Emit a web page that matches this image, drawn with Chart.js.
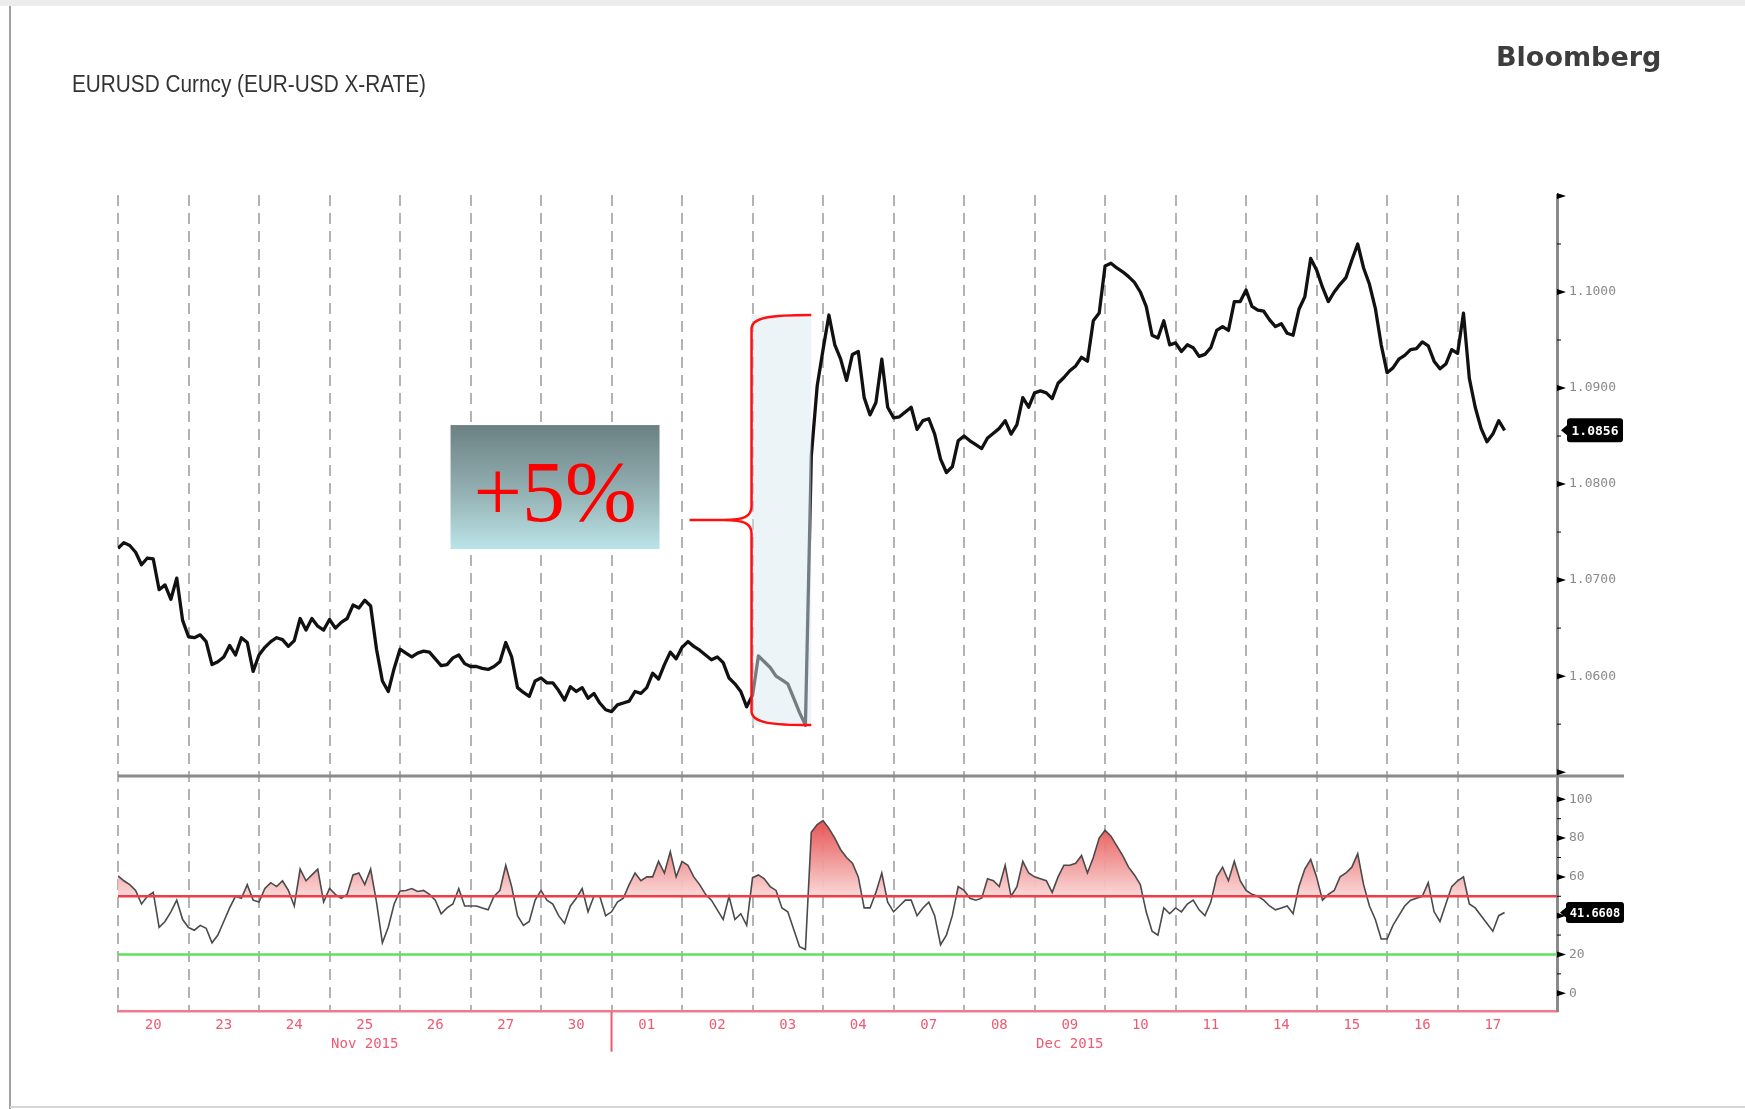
<!DOCTYPE html>
<html>
<head>
<meta charset="utf-8">
<title>EURUSD Curncy</title>
<script src="https://cdn.jsdelivr.net/npm/chart.js@4.4.1/dist/chart.umd.min.js"></script>
<style>
  html, body { margin: 0; padding: 0; background: #fff; }
  #wrap { position: relative; width: 1745px; height: 1109px; overflow: hidden; }
  #chart { position: absolute; left: 0; top: 0; }
  #title { position: absolute; left: 72px; top: 73px; font-family: 'Liberation Sans', Arial, sans-serif;
           font-size: 23px; line-height: 23px; color: #333; white-space: nowrap; transform-origin: 0 0; }
  #brand { position: absolute; left: 1496px; top: 43px; font-family: 'DejaVu Sans', sans-serif; font-weight: bold;
           font-size: 27px; line-height: 27px; color: #3d3d3d; white-space: nowrap; }
</style>
</head>
<body>
<div id="wrap">
  <canvas id="chart" width="1745" height="1109"></canvas>
  <div id="title">EURUSD Curncy (EUR-USD X-RATE)</div>
  <div id="brand">Bloomberg</div>
</div>
<script>
const dayLabels = ['20', '23', '24', '25', '26', '27', '30', '01', '02', '03',
                   '04', '07', '08', '09', '10', '11', '14', '15', '16', '17'];
const monthNames = ['Nov 2015', 'Dec 2015'];
const monthLabelDay = [3, 13];   // month name printed under these days
const monthBreakDay = 7;         // first day of December
const pointsPerDay = 12;         // one reading every 2 hours

// EURUSD, 12 readings per trading day
const eurusd = [
  1.0733, 1.0739, 1.0736, 1.0729, 1.0716, 1.0723, 1.0722, 1.0690, 1.0695, 1.0680, 1.0702, 1.0658, // 20
  1.0641, 1.0640, 1.0643, 1.0636, 1.0612, 1.0615, 1.0620, 1.0632, 1.0622, 1.0640, 1.0635, 1.0605, // 23
  1.0622, 1.0630, 1.0636, 1.0640, 1.0638, 1.0631, 1.0637, 1.0660, 1.0648, 1.0660, 1.0652, 1.0648, // 24
  1.0659, 1.0650, 1.0656, 1.0660, 1.0674, 1.0671, 1.0679, 1.0673, 1.0628, 1.0595, 1.0584, 1.0608, // 25
  1.0628, 1.0624, 1.0620, 1.0624, 1.0626, 1.0625, 1.0618, 1.0611, 1.0612, 1.0619, 1.0622, 1.0613, // 26
  1.0610, 1.0610, 1.0608, 1.0607, 1.0610, 1.0615, 1.0635, 1.0620, 1.0588, 1.0583, 1.0579, 1.0595, // 27
  1.0598, 1.0593, 1.0593, 1.0585, 1.0575, 1.0589, 1.0584, 1.0588, 1.0577, 1.0582, 1.0572, 1.0565, // 30
  1.0563, 1.0570, 1.0572, 1.0574, 1.0584, 1.0582, 1.0588, 1.0603, 1.0597, 1.0612, 1.0625, 1.0618, // 01
  1.0630, 1.0636, 1.0631, 1.0627, 1.0622, 1.0617, 1.0620, 1.0614, 1.0598, 1.0592, 1.0584, 1.0568, // 02
  1.0580, 1.0621, 1.0615, 1.0609, 1.0600, 1.0596, 1.0592, 1.0577, 1.0562, 1.0549, 1.0829, 1.0902, // 03
  1.0940, 1.0976, 1.0945, 1.0930, 1.0908, 1.0935, 1.0938, 1.0890, 1.0872, 1.0885, 1.0930, 1.0880, // 04
  1.0869, 1.0870, 1.0875, 1.0880, 1.0857, 1.0866, 1.0868, 1.0852, 1.0826, 1.0812, 1.0818, 1.0845, // 07
  1.0850, 1.0845, 1.0841, 1.0837, 1.0848, 1.0853, 1.0858, 1.0866, 1.0852, 1.0862, 1.0890, 1.0880, // 08
  1.0895, 1.0897, 1.0895, 1.0889, 1.0905, 1.0911, 1.0918, 1.0923, 1.0932, 1.0928, 1.0970, 1.0978, // 09
  1.1027, 1.1030, 1.1025, 1.1021, 1.1016, 1.1010, 1.1000, 1.0985, 1.0955, 1.0952, 1.0970, 1.0945, // 10
  1.0947, 1.0938, 1.0945, 1.0942, 1.0933, 1.0935, 1.0942, 1.0960, 1.0964, 1.0960, 1.0990, 1.0990, // 11
  1.1002, 1.0985, 1.0981, 1.0980, 1.0971, 1.0964, 1.0967, 1.0957, 1.0955, 1.0982, 1.0995, 1.1035, // 14
  1.1023, 1.1005, 1.0990, 1.1000, 1.1008, 1.1015, 1.1033, 1.1050, 1.1025, 1.1008, 1.0983, 1.0945, // 15
  1.0916, 1.0921, 1.0930, 1.0934, 1.0940, 1.0941, 1.0948, 1.0944, 1.0928, 1.0920, 1.0925, 1.0940, // 16
  1.0936, 1.0978, 1.0910, 1.0880, 1.0858, 1.0844, 1.0852, 1.0866, 1.0856                          // 17
];

// RSI, same sampling
const rsi = [
  60.5, 58, 56, 53, 46, 50, 52, 34, 37, 42, 48, 38,       // 20
  33.9, 32.5, 35, 33.5, 26, 30, 37, 44, 50, 49, 56, 48,   // 23
  47, 54, 57, 55, 58, 53, 45, 64, 58, 61, 64, 47,         // 24
  54, 51, 49, 51, 61, 62, 56, 64, 47, 26, 34, 46,         // 25
  52.7, 53, 54, 52.5, 53, 51, 48, 41, 44, 46, 54, 45,     // 26
  45, 45, 44, 43, 50, 53, 66, 55, 40, 35, 37, 48,         // 27
  53, 48, 46, 40, 36, 45, 49, 54, 42, 50, 50, 40,         // 30
  42, 47, 49, 56, 62, 58, 60, 60, 68, 62, 73, 60,         // 01
  68, 66, 60, 56, 51, 48, 43, 38, 50, 38, 41, 35,         // 02
  59.6, 61, 59, 55, 53, 44, 42, 33, 24, 22.6, 83, 87,     // 03
  89, 85, 80, 74, 70, 67, 60, 44, 44, 52, 62, 47,         // 04
  42, 45, 48, 48, 40, 44, 47, 40, 25, 30, 40, 55,         // 07
  53, 49, 48, 49, 59, 58, 55, 66, 50, 55, 68, 62,         // 08
  60, 59, 58, 52, 60, 66, 66, 67, 71, 62, 70, 80,         // 09
  84, 81, 76, 71, 65, 61, 56, 42, 32, 30, 44, 41,         // 10
  44, 42, 46, 48, 43, 40, 47, 60, 65, 58, 68, 58,         // 11
  53, 51, 50, 48, 45, 43, 44, 45, 41, 55, 64, 69,         // 14
  60, 48, 51, 53, 60, 62, 65, 72, 56, 45, 38, 28,         // 15
  28, 35, 40, 45, 48, 49, 50, 57, 42, 37, 46, 55,         // 16
  58, 60, 46, 44, 40, 36, 32, 40, 41.6608                 // 17
];

const priceTicks = [1.05, 1.06, 1.07, 1.08, 1.09, 1.10, 1.11];
const priceTickLabels = ['', '1.0600', '1.0700', '1.0800', '1.0900', '1.1000', ''];
const rsiTicks = [0, 20, 40, 60, 80, 100];
const rsiTickLabels = ['0', '20', '40', '60', '80', '100'];
const rsiLevels = [50, 20];
const jumpDay = 9;        // 03 Dec
const jumpLabel = '+5%';

const xMax = 20.41;
const priceMin = 1.0496, priceMax = 1.1101;
const rsiMin = -9.5, rsiMax = 112;

const GRID = '#b3b3b3';
const AXIS = '#8a8a8a';
const PINK = '#ee5a72';

const xOf = i => i / pointsPerDay;
const priceData = eurusd.map((v, i) => ({ x: xOf(i), y: v }));
const rsiData = rsi.map((v, i) => ({ x: xOf(i), y: v }));
const levelData = lvl => [{ x: 0, y: lvl }, { x: xMax, y: lvl }];

function drawTag(c, x, y, text, w, h, size) {
    c.save();
    c.fillStyle = '#000';
    c.beginPath();
    c.moveTo(x, y);
    c.lineTo(x + 6, y - 5);
    c.lineTo(x + 6, y - h / 2 + 3);
    c.quadraticCurveTo(x + 6, y - h / 2, x + 9, y - h / 2);
    c.lineTo(x + w - 3, y - h / 2);
    c.quadraticCurveTo(x + w, y - h / 2, x + w, y - h / 2 + 3);
    c.lineTo(x + w, y + h / 2 - 3);
    c.quadraticCurveTo(x + w, y + h / 2, x + w - 3, y + h / 2);
    c.lineTo(x + 9, y + h / 2);
    c.quadraticCurveTo(x + 6, y + h / 2, x + 6, y + h / 2 - 3);
    c.lineTo(x + 6, y + 5);
    c.closePath();
    c.fill();
    c.fillStyle = '#fff';
    c.font = 'bold ' + size + 'px "DejaVu Sans Mono", monospace';
    c.textAlign = 'center';
    c.textBaseline = 'middle';
    c.fillText(text, x + 6 + (w - 6) / 2, y + 1);
    c.restore();
}

function axisMarks(c, scale, ticks) {
    const ax = scale.left;
    c.fillStyle = '#000';
    c.strokeStyle = '#000';
    c.lineWidth = 1;
    ticks.forEach((v, i) => {
        const y = scale.getPixelForValue(v);
        c.beginPath();
        c.moveTo(ax, y - 3);
        c.lineTo(ax + 9, y);
        c.lineTo(ax, y + 3);
        c.closePath();
        c.fill();
        if (i > 0) {
            const ym = scale.getPixelForValue((v + ticks[i - 1]) / 2);
            c.beginPath();
            c.moveTo(ax, ym);
            c.lineTo(ax + 4, ym);
            c.stroke();
        }
    });
}

const overlay = {
    id: 'overlay',
    beforeDraw(chart) {
        const c = chart.ctx;
        c.save();
        c.fillStyle = '#fff';
        c.fillRect(0, 0, chart.width, chart.height);
        c.fillStyle = '#ededed';
        c.fillRect(0, 0, chart.width, 6);
        c.strokeStyle = '#a0a0a0';
        c.lineWidth = 2;
        c.beginPath();
        c.moveTo(10, 6);
        c.lineTo(10, chart.height);
        c.stroke();
        c.strokeStyle = '#d6d6d6';
        c.beginPath();
        c.moveTo(10, chart.height - 2);
        c.lineTo(chart.width, chart.height - 2);
        c.stroke();
        c.restore();
    },
    afterDatasetsDraw(chart) {
        const c = chart.ctx;
        const xs = chart.scales.x, ys = chart.scales.y;
        const dayVals = eurusd.slice(jumpDay * pointsPerDay, (jumpDay + 1) * pointsPerDay);
        const nextVals = eurusd.slice((jumpDay + 1) * pointsPerDay, (jumpDay + 2) * pointsPerDay);
        const low = Math.min(...dayVals);
        const high = Math.max(...nextVals);
        const lowIdx = jumpDay * pointsPerDay + dayVals.indexOf(low);
        const x0 = xs.getPixelForValue(jumpDay);
        const x1 = xs.getPixelForValue(xOf(lowIdx + 1));
        const yH = ys.getPixelForValue(high);
        const yL = ys.getPixelForValue(low);

        c.save();
        // shaded jump window
        c.fillStyle = 'rgba(218,233,240,0.5)';
        c.fillRect(x0 - 1, yH, x1 - x0 + 1, yL - yH);

        // curly brace
        const bx = x0 - 1;
        const mid = (yH + yL) / 2;
        c.strokeStyle = '#ff1010';
        c.lineWidth = 2.5;
        c.beginPath();
        c.moveTo(x1, yH);
        c.bezierCurveTo(bx + 20, yH, bx, yH + 2, bx, yH + 14);
        c.lineTo(bx, mid - 14);
        c.bezierCurveTo(bx, mid - 3, bx - 8, mid, bx - 28, mid);
        c.bezierCurveTo(bx - 8, mid, bx, mid + 3, bx, mid + 14);
        c.lineTo(bx, yL - 14);
        c.bezierCurveTo(bx, yL - 2, bx + 20, yL, x1, yL);
        c.moveTo(bx - 28, mid);
        c.lineTo(bx - 62, mid);
        c.stroke();

        // label box
        const bw = 209, bh = 124;
        const br = bx - 92, bt = mid - 95;
        const g = c.createLinearGradient(0, bt, 0, bt + bh);
        g.addColorStop(0, '#6b8184');
        g.addColorStop(0.55, '#94b1b3');
        g.addColorStop(1, '#bae4e8');
        c.fillStyle = g;
        c.fillRect(br - bw, bt, bw, bh);
        c.fillStyle = '#ff0000';
        c.font = '86px "Liberation Serif", "Times New Roman", serif';
        c.textAlign = 'center';
        c.textBaseline = 'alphabetic';
        c.fillText(jumpLabel, br - bw / 2, bt + 96);
        c.restore();
    },
    afterDraw(chart) {
        const c = chart.ctx;
        const area = chart.chartArea;
        const xs = chart.scales.x, ys = chart.scales.y, ys2 = chart.scales.y2;
        c.save();
        // panel separator
        c.strokeStyle = AXIS;
        c.lineWidth = 3;
        c.beginPath();
        c.moveTo(area.left, ys.bottom);
        c.lineTo(ys.left + 67, ys.bottom);
        c.stroke();
        // month break
        const mx = xs.getPixelForValue(monthBreakDay);
        c.strokeStyle = PINK;
        c.lineWidth = 2;
        c.beginPath();
        c.moveTo(mx, area.bottom);
        c.lineTo(mx, area.bottom + 40);
        c.stroke();
        axisMarks(c, ys, priceTicks);
        axisMarks(c, ys2, rsiTicks);
        const lastP = eurusd[eurusd.length - 1];
        const lastR = rsi[rsi.length - 1];
        drawTag(c, ys.left + 4, ys.getPixelForValue(lastP), lastP.toFixed(4), 62, 24, 13);
        drawTag(c, ys2.left + 3, ys2.getPixelForValue(lastR), lastR.toFixed(4), 64, 21, 12);
        c.restore();
    }
};

const tickFont = { family: '"DejaVu Sans Mono", monospace', size: 13 };

new Chart(document.getElementById('chart'), {
    type: 'line',
    data: {
        datasets: [
            {
                data: priceData, yAxisID: 'y', borderColor: '#111', borderWidth: 3.3,
                pointRadius: 0, tension: 0, borderJoinStyle: 'round', fill: false
            },
            {
                data: levelData(rsiLevels[0]), yAxisID: 'y2', borderColor: '#f03c46', borderWidth: 2.5,
                pointRadius: 0, fill: false
            },
            {
                data: levelData(rsiLevels[1]), yAxisID: 'y2', borderColor: '#5fe05f', borderWidth: 2.5,
                pointRadius: 0, fill: false
            },
            {
                data: rsiData, yAxisID: 'y2', borderColor: '#4a4a4a', borderWidth: 1.6,
                pointRadius: 0, tension: 0,
                fill: { target: { value: rsiLevels[0] }, below: 'rgba(0,0,0,0)' },
                backgroundColor: (ctx) => {
                    const ch = ctx.chart;
                    const s = ch.scales.y2;
                    if (!s || !ch.chartArea) return 'rgba(240,130,130,0.7)';
                    const g = ch.ctx.createLinearGradient(0, s.getPixelForValue(90), 0, s.getPixelForValue(50));
                    g.addColorStop(0, 'rgba(230,72,72,0.95)');
                    g.addColorStop(1, 'rgba(250,214,214,0.95)');
                    return g;
                }
            }
        ]
    },
    options: {
        responsive: false,
        animation: false,
        devicePixelRatio: 1,
        events: [],
        layout: { padding: { left: 118, top: 195, right: 0, bottom: 0 } },
        plugins: { legend: { display: false }, tooltip: { enabled: false } },
        scales: {
            x: {
                type: 'linear', min: 0, max: xMax,
                afterBuildTicks: s => { s.ticks = dayLabels.map((_, i) => ({ value: i + 0.5 })); },
                afterFit: s => { s.height = 97.3; },
                ticks: {
                    autoSkip: false, maxRotation: 0, padding: 5, color: PINK,
                    font: { family: '"DejaVu Sans Mono", monospace', size: 14, lineHeight: 1.3 },
                    callback: (v, i) => {
                        const m = monthLabelDay.indexOf(i);
                        return m >= 0 ? [dayLabels[i], monthNames[m]] : dayLabels[i];
                    }
                },
                grid: {
                    offset: true, drawTicks: false, lineWidth: 2,
                    color: ctx => ctx.index < dayLabels.length ? GRID : 'rgba(0,0,0,0)'
                },
                border: { color: '#f27a8c', width: 2.5, dash: [11, 7] }
            },
            y: {
                type: 'linear', position: 'right', stack: 'panels', stackWeight: 581,
                min: priceMin, max: priceMax,
                afterBuildTicks: s => { s.ticks = priceTicks.map(v => ({ value: v })); },
                afterFit: s => { s.width = 188; },
                ticks: { callback: (v, i) => priceTickLabels[i], color: AXIS, font: tickFont, padding: 12 },
                grid: { drawOnChartArea: false, drawTicks: false },
                border: { color: AXIS, width: 3 }
            },
            y2: {
                type: 'linear', position: 'right', stack: 'panels', stackWeight: 235.7,
                min: rsiMin, max: rsiMax,
                afterBuildTicks: s => { s.ticks = rsiTicks.map(v => ({ value: v })); },
                afterFit: s => { s.width = 188; },
                ticks: { callback: (v, i) => rsiTickLabels[i], color: AXIS, font: tickFont, padding: 12 },
                grid: { drawOnChartArea: false, drawTicks: false },
                border: { color: AXIS, width: 3 }
            }
        }
    },
    plugins: [overlay]
});

const title = document.getElementById('title');
const tw = title.getBoundingClientRect().width;
title.style.transform = 'scaleX(' + (354 / tw) + ')';
</script>
</body>
</html>
